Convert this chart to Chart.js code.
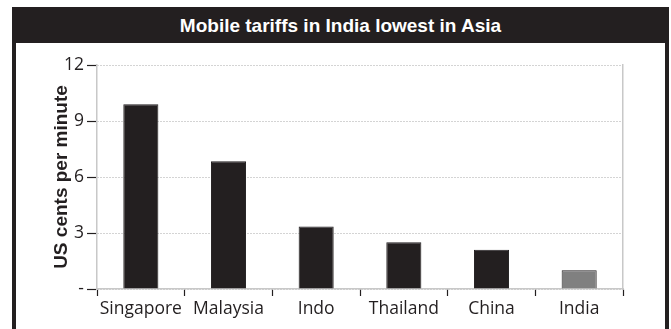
<!DOCTYPE html>
<html lang="en">
<head>
  <meta charset="UTF-8">
  <title>Mobile tariffs in India lowest in Asia</title>
  <style>
    body { margin: 0; background: #fff; }
    .box {
      position: absolute;
      left: 12px;
      top: 7px;
      width: 649px;
      height: 340px;
      border-left: 4px solid #231f20;
      border-right: 4px solid #231f20;
      background: #fff;
    }
    .box__title {
      height: 36px;
      background: #231f20;
      color: #fff;
      text-align: center;
      font: bold 19px "Liberation Sans Narrow", "Liberation Sans", sans-serif;
      line-height: 37px;
    }
    .box__chart { display: block; }
  </style>
</head>
<body>

  <div class="box">
    <div class="box__title">Mobile tariffs in India lowest in Asia</div>
    <canvas id="tariffChart" class="box__chart" width="649" height="286"></canvas>
  </div>

  <script src="https://cdn.jsdelivr.net/npm/chart.js"></script>
  <script>
    // Chart Data
    const countries = ['Singapore', 'Malaysia', 'Indo', 'Thailand', 'China', 'India'];
    const centsPerMinute = [9.9, 6.85, 3.35, 2.5, 2.1, 1.0];
    const yTicks = [0, 3, 6, 9, 12];

    const ink = '#231f20';
    const axisGrey = '#c8c8c8';
    const tickFont = { family: '"Open Sans", sans-serif', size: 17.5 };

    const config = {
      type: 'bar',
      data: {
        labels: countries,
        datasets: [{
          data: centsPerMinute,
          backgroundColor: countries.map(c => c === 'India' ? '#808080' : ink),
          borderColor: ink,
          borderWidth: 1,
          barPercentage: 0.4,
          categoryPercentage: 1
        }]
      },
      options: {
        responsive: false,
        animation: false,
        devicePixelRatio: 1,
        layout: {
          padding: { top: 22, right: 42, bottom: 0, left: 0 }
        },
        plugins: {
          legend: { display: false },
          tooltip: { enabled: false }
        },
        scales: {
          x: {
            afterFit: scale => { scale.height = 40; },
            grid: {
              offset: true,
              drawOnChartArea: false,
              tickLength: 7,
              tickColor: ink,
              tickWidth: 1.2
            },
            border: { color: axisGrey, width: 1.5 },
            ticks: {
              color: ink,
              font: tickFont,
              padding: 3,
              maxRotation: 0,
              minRotation: 0,
              autoSkip: false
            }
          },
          y: {
            min: 0,
            max: 12,
            afterFit: scale => { scale.width = 81; },
            afterBuildTicks: scale => {
              scale.ticks = yTicks.map(v => ({ value: v }));
            },
            grid: {
              color: '#a8a8a8',
              tickLength: 10,
              tickColor: ink,
              tickWidth: 1.2,
              tickBorderDash: []
            },
            border: { color: axisGrey, width: 1.5, dash: [1, 2] },
            ticks: {
              color: ink,
              font: tickFont,
              padding: 3,
              callback: v => v === 0 ? '-' : v
            },
            title: {
              display: true,
              text: 'US cents per minute',
              color: ink,
              font: { family: '"Liberation Sans", sans-serif', size: 19, weight: 'bold' },
              padding: { top: 34, bottom: 0 }
            }
          },
          yRight: {
            position: 'right',
            min: 0,
            max: 12,
            afterFit: scale => { scale.width = 0; },
            grid: { display: false },
            ticks: { display: false },
            border: { color: axisGrey, width: 1.5 }
          }
        }
      }
    };

    const tariffChart = new Chart(document.getElementById('tariffChart'), config);
  </script>
</body>
</html>
